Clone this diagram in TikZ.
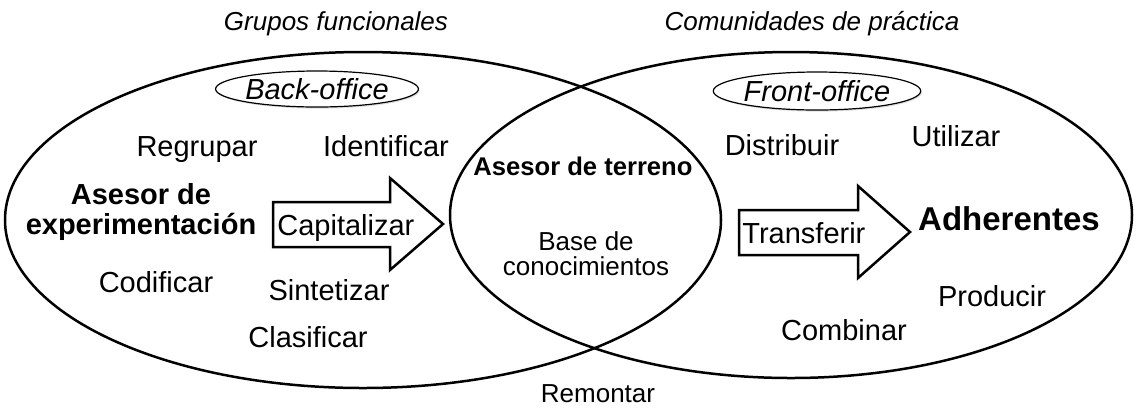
\documentclass[tikz,border=0pt]{standalone}
\usepackage{fontspec}
\setmainfont{Liberation Sans}
\usetikzlibrary{shapes.geometric}
\usetikzlibrary{shadows}

\begin{document}
\begin{tikzpicture}[x=0.5pt,y=-0.5pt,
  lbl/.style={font=\fontsize{14.5}{15}\selectfont, anchor=base},
  ttl/.style={font=\fontsize{13}{15}\selectfont\itshape, anchor=base},
  office/.style={draw, ellipse, line width=0.6pt, fill=white, inner sep=0pt,
    drop shadow={opacity=0.25, shadow xshift=0.6pt, shadow yshift=-0.8pt},
    font=\fontsize{14.5}{15}\selectfont\itshape}]
\def\lw{1.25pt}
\useasboundingbox (0,0) rectangle (1136,409);

% los dos conjuntos
\node [draw, ellipse, line width=\lw, inner sep=0pt, minimum width=358pt, minimum height=168pt, name=grupos]      at (363,220) {};
\node [draw, ellipse, line width=\lw, inner sep=0pt, minimum width=341pt, minimum height=163pt, name=comunidades] at (791,215) {};

\node [ttl, name=tgrupos] at (336,30) {Grupos funcionales};
\node [ttl, name=tcomunidades] at (812,30) {Comunidades de práctica};

\node [office, minimum width=83pt, minimum height=18pt, name=back]  at (317,89) {Back-office};
\node [office, minimum width=85pt, minimum height=19pt, name=front] at (817,91) {Front-office};

% flechas de bloque
\draw [line width=\lw, fill=white, line join=miter] (273,202) -- (390,202) -- (390,178) -- (443,224) -- (390,270) -- (390,247) -- (273,247) -- cycle;
\draw [line width=\lw, fill=white, line join=miter] (739,210) -- (858,210) -- (858,186) -- (910,232) -- (858,278) -- (858,255) -- (739,255) -- cycle;

% lado izquierdo
\node [lbl, name=regrupar]    at (197,156) {Regrupar};
\node [lbl, name=identificar] at (386,156) {Identificar};
\node [lbl, font=\fontsize{14.5}{15}\selectfont\bfseries, anchor=center, align=center, name=aexp] at (141,212) {Asesor de\\experimentación};
\node [lbl, anchor=base west, inner sep=0pt, name=capitalizar] at (277,235) {Capitalizar};
\node [lbl, name=codificar]   at (156,292) {Codificar};
\node [lbl, name=sintetizar]  at (329,300) {Sintetizar};
\node [lbl, name=clasificar]  at (308,347) {Clasificar};

% centro
\node [lbl, font=\fontsize{12.8}{15}\selectfont\bfseries, name=aterreno] at (583,175) {Asesor de terreno};
\node [lbl, font=\fontsize{13}{12.5}\selectfont, anchor=center, align=center, name=base] at (586,254) {Base de\\conocimientos};
\node [lbl, font=\fontsize{13}{15}\selectfont, name=remontar] at (598,402) {Remontar};

% lado derecho
\node [lbl, name=distribuir] at (782,155) {Distribuir};
\node [lbl, name=utilizar]   at (956,146) {Utilizar};
\node [lbl, anchor=base west, inner sep=0pt, name=transferir] at (742,243) {Transferir};
\node [lbl, font=\fontsize{16.5}{18}\selectfont\bfseries, name=adherentes] at (1009,230) {Adherentes};
\node [lbl, name=producir]   at (992,306) {Producir};
\node [lbl, name=combinar]   at (844,340) {Combinar};
\end{tikzpicture}
\end{document}
